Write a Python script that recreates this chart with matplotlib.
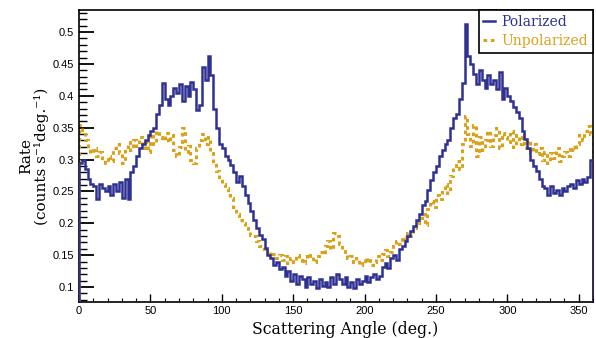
import matplotlib.pyplot as plt
from matplotlib.ticker import MultipleLocator
import numpy as np

# 2-degree bins over 0..360 deg
bin_edges = np.arange(0, 362, 2)

polarized = [
    0.295, 0.300, 0.285, 0.270, 0.262, 0.258, 0.238, 0.262, 0.255, 0.250,
    0.258, 0.245, 0.262, 0.250, 0.265, 0.240, 0.270, 0.238, 0.280, 0.290,
    0.305, 0.318, 0.325, 0.330, 0.338, 0.345, 0.350, 0.372, 0.385, 0.420,
    0.395, 0.385, 0.400, 0.412, 0.405, 0.418, 0.392, 0.415, 0.400, 0.422,
    0.410, 0.378, 0.385, 0.445, 0.425, 0.462, 0.432, 0.380, 0.350, 0.325,
    0.318, 0.305, 0.300, 0.292, 0.280, 0.265, 0.275, 0.258, 0.245, 0.232,
    0.220, 0.205, 0.192, 0.182, 0.175, 0.162, 0.150, 0.145, 0.135, 0.140,
    0.128, 0.132, 0.118, 0.125, 0.110, 0.120, 0.105, 0.118, 0.112, 0.100,
    0.115, 0.105, 0.110, 0.098, 0.112, 0.102, 0.108, 0.100, 0.115, 0.105,
    0.120, 0.112, 0.105, 0.115, 0.100, 0.108, 0.098, 0.112, 0.105, 0.110,
    0.118, 0.108, 0.115, 0.120, 0.112, 0.118, 0.132, 0.138, 0.130, 0.145,
    0.150, 0.142, 0.160, 0.165, 0.172, 0.180, 0.188, 0.195, 0.205, 0.215,
    0.228, 0.235, 0.252, 0.268, 0.280, 0.290, 0.305, 0.315, 0.325, 0.330,
    0.350, 0.365, 0.372, 0.395, 0.420, 0.512, 0.462, 0.450, 0.435, 0.418,
    0.440, 0.425, 0.412, 0.432, 0.418, 0.425, 0.410, 0.438, 0.395, 0.412,
    0.400, 0.392, 0.382, 0.375, 0.365, 0.345, 0.332, 0.318, 0.300, 0.290,
    0.282, 0.270, 0.258, 0.255, 0.245, 0.258, 0.248, 0.252, 0.245, 0.255,
    0.250, 0.258, 0.262, 0.255, 0.268, 0.262, 0.270, 0.265, 0.272, 0.300,
]

unpolarized = [
    0.355, 0.340, 0.330, 0.318, 0.310, 0.318, 0.305, 0.312, 0.300, 0.295,
    0.305, 0.298, 0.318, 0.325, 0.310, 0.295, 0.320, 0.328, 0.315, 0.330,
    0.322, 0.335, 0.318, 0.328, 0.312, 0.340, 0.325, 0.345, 0.335, 0.330,
    0.342, 0.328, 0.338, 0.315, 0.305, 0.320, 0.350, 0.312, 0.322, 0.300,
    0.295, 0.318, 0.330, 0.340, 0.325, 0.335, 0.310, 0.295, 0.282, 0.270,
    0.262, 0.255, 0.245, 0.240, 0.225, 0.215, 0.205, 0.200, 0.192, 0.188,
    0.182, 0.180, 0.172, 0.165, 0.160, 0.155, 0.158, 0.148, 0.152, 0.145,
    0.150, 0.142, 0.148, 0.138, 0.145, 0.140, 0.150, 0.142, 0.138, 0.148,
    0.145, 0.150, 0.140, 0.148, 0.155, 0.152, 0.165, 0.172, 0.160, 0.185,
    0.180, 0.168, 0.160, 0.152, 0.145, 0.148, 0.140, 0.145, 0.135, 0.142,
    0.138, 0.145, 0.135, 0.140, 0.148, 0.142, 0.152, 0.158, 0.148, 0.155,
    0.165, 0.172, 0.168, 0.178, 0.175, 0.185, 0.180, 0.192, 0.200, 0.208,
    0.215, 0.198, 0.222, 0.235, 0.225, 0.245, 0.238, 0.255, 0.262, 0.248,
    0.275, 0.290, 0.298, 0.285, 0.325, 0.368, 0.340, 0.322, 0.355, 0.305,
    0.335, 0.315, 0.330, 0.345, 0.322, 0.338, 0.350, 0.318, 0.342, 0.335,
    0.328, 0.345, 0.320, 0.338, 0.325, 0.340, 0.318, 0.330, 0.312, 0.325,
    0.308, 0.318, 0.300, 0.312, 0.295, 0.310, 0.302, 0.318, 0.298, 0.305,
    0.312, 0.305, 0.320, 0.315, 0.325, 0.338, 0.330, 0.345, 0.352, 0.340,
]

blue = '#2e3192'
gold = '#d9a21b'

fig = plt.figure(figsize=(5.96, 3.38), dpi=100)
ax = fig.add_axes([0.1326, 0.1065, 0.8624, 0.8635])

ax.stairs(unpolarized, bin_edges, baseline=0, color=gold, linewidth=2.2,
          linestyle=(0, (1.2, 1.2)), label='Unpolarized', zorder=2)
ax.stairs(polarized, bin_edges, baseline=0, color=blue, linewidth=1.8,
          label='Polarized', zorder=3)

ax.set_xlim(0, 360)
ax.set_ylim(0.0765, 0.5345)

ax.xaxis.set_major_locator(MultipleLocator(50))
ax.xaxis.set_minor_locator(MultipleLocator(10))
ax.yaxis.set_minor_locator(MultipleLocator(0.01))
ax.set_yticks(np.arange(0.1, 0.501, 0.05))
ax.set_yticklabels(['0.1', '0.15', '0.2', '0.25', '0.3', '0.35', '0.4', '0.45', '0.5'])

ax.tick_params(axis='y', which='major', direction='in', length=11, width=1.3, pad=3.5,
               labelsize=8, labelfontfamily='Liberation Sans')
ax.tick_params(axis='y', which='minor', direction='in', length=5.5, width=1.0)
ax.tick_params(axis='x', which='major', direction='in', length=6, width=1.0, pad=3,
               labelsize=8, labelfontfamily='Liberation Sans')
ax.tick_params(axis='x', which='minor', direction='in', length=3, width=0.8)

for s in ax.spines.values():
    s.set_linewidth(1.2)

ax.set_xlabel('Scattering Angle (deg.)', family='DejaVu Serif', fontsize=11.3, labelpad=0)
ax.xaxis.set_label_coords(0.518, -0.065)
ax.set_ylabel('Rate\n(counts s⁻¹deg.⁻¹)', family='DejaVu Serif', fontsize=11,
              linespacing=1.05, labelpad=3)

h, l = ax.get_legend_handles_labels()
leg = ax.legend(h[::-1], l[::-1], loc='upper right', bbox_to_anchor=(1, 1),
                borderaxespad=0, handlelength=0.8, handletextpad=0.5,
                labelcolor='linecolor', fancybox=False, edgecolor='black',
                framealpha=1, borderpad=0.35, labelspacing=0.35,
                prop={'family': 'DejaVu Serif', 'size': 10})
leg.get_frame().set_linewidth(1.2)

fig.savefig('out.png', dpi=100)
